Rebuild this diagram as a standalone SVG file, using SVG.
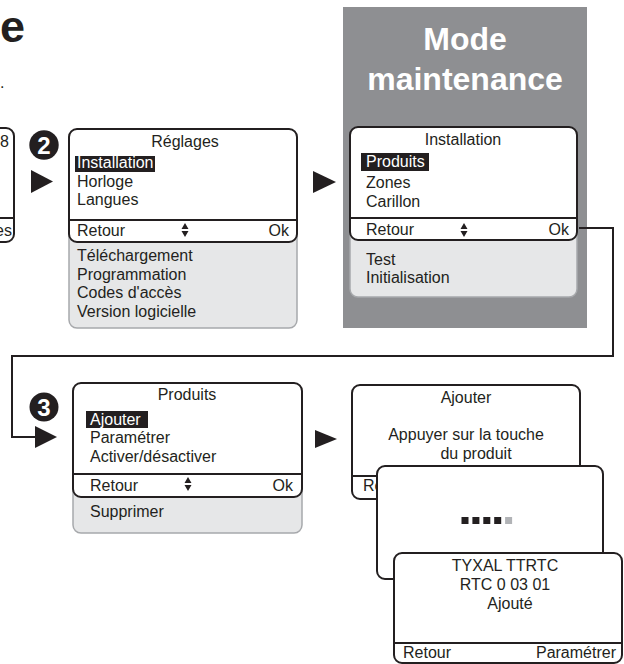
<svg xmlns="http://www.w3.org/2000/svg" width="624" height="664" viewBox="0 0 624 664">
<defs>
<style>
text{font-family:"Liberation Sans",Arial,sans-serif;font-size:16px;fill:#231f20}
.c{text-anchor:middle}
.e{text-anchor:end}
.w{fill:#ffffff}
.scr{fill:#ffffff;stroke:#231f20;stroke-width:2}
.ext{fill:#e6e7e8;stroke:#a7a9ac;stroke-width:1.5}
.sep{stroke:#231f20;stroke-width:2}
.hl{fill:#231f20}
.tri{fill:#231f20}
.num{font-size:24px;font-weight:bold;fill:#ffffff;text-anchor:middle}
.conn{fill:none;stroke:#231f20;stroke-width:2}
</style>
</defs>

<g id="page-title">
<text x="0" y="42" style="font-size:45px;font-weight:bold">e</text>
<text x="0" y="88">.</text>
</g>

<g id="screen-previous">
<rect class="scr" x="-20" y="128" width="34" height="114" rx="8"/>
<line class="sep" x1="-20" y1="218" x2="14" y2="218"/>
<text class="e" x="9" y="147">8</text>
<text class="e" x="12" y="236">es</text>
</g>

<g id="step2">
<circle cx="44" cy="145" r="14.7" fill="#231f20"/>
<text class="num" x="44" y="153.5">2</text>
<polygon class="tri" points="31,170 53,181.5 31,193"/>
</g>

<g id="screen-reglages">
<rect class="ext" x="69" y="200" width="228" height="128" rx="8"/>
<rect class="scr" x="69" y="129" width="228" height="113" rx="8"/>
<line class="sep" x1="69" y1="220" x2="297" y2="220"/>
<text class="c" x="185" y="147">Réglages</text>
<rect class="hl" x="75" y="156" width="80" height="16"/>
<text class="w" x="77" y="168">Installation</text>
<text x="77" y="187">Horloge</text>
<text x="77" y="205">Langues</text>
<text x="77" y="236">Retour</text>
<path class="tri" d="M181.5,229 L185,223 L188.5,229 Z M181.5,231 L185,237 L188.5,231 Z"/>
<text class="e" x="289" y="236">Ok</text>
<text x="77" y="261">Téléchargement</text>
<text x="77" y="280">Programmation</text>
<text x="77" y="298">Codes d'accès</text>
<text x="77" y="317">Version logicielle</text>
</g>

<g id="arrow-to-installation">
<polygon class="tri" points="313,171 336,182 313,193"/>
</g>

<g id="maintenance-panel">
<rect x="343" y="7" width="244" height="321" fill="#8e8f92"/>
<text class="c w" x="465" y="50" style="font-size:32px;font-weight:bold">Mode</text>
<text class="c w" x="465" y="90" style="font-size:32px;font-weight:bold">maintenance</text>
</g>

<g id="screen-installation">
<rect class="ext" x="350" y="200" width="227" height="97" rx="8"/>
<rect class="scr" x="350" y="127" width="227" height="113" rx="8"/>
<line class="sep" x1="350" y1="218" x2="577" y2="218"/>
<text class="c" x="463" y="145">Installation</text>
<rect class="hl" x="361" y="153" width="68" height="18"/>
<text class="w" x="366" y="167">Produits</text>
<text x="366" y="188">Zones</text>
<text x="366" y="207">Carillon</text>
<text x="366" y="235">Retour</text>
<path class="tri" d="M460.5,229 L464,223 L467.5,229 Z M460.5,231 L464,237 L467.5,231 Z"/>
<text class="e" x="569" y="235">Ok</text>
<text x="366" y="265">Test</text>
<text x="366" y="283">Initialisation</text>
</g>

<g id="connectors">
<path class="conn" d="M579,228 H613 V356 H12 V437 H36"/>
<polygon class="tri" points="35,426 57,437 35,448"/>
</g>

<g id="step3">
<circle cx="44" cy="407" r="14.5" fill="#231f20"/>
<text class="num" x="44" y="415.5">3</text>
</g>

<g id="screen-produits">
<rect class="ext" x="73" y="460" width="229" height="73" rx="8"/>
<rect class="scr" x="73" y="383" width="229" height="114" rx="8"/>
<line class="sep" x1="73" y1="474" x2="302" y2="474"/>
<text class="c" x="187" y="400">Produits</text>
<rect class="hl" x="86" y="411" width="62" height="17"/>
<text class="w" x="90" y="425">Ajouter</text>
<text x="90" y="443">Paramétrer</text>
<text x="90" y="462">Activer/désactiver</text>
<text x="90" y="491">Retour</text>
<path class="tri" d="M184.5,483 L188,477 L191.5,483 Z M184.5,485 L188,491 L191.5,485 Z"/>
<text class="e" x="293" y="491">Ok</text>
<text x="90" y="517">Supprimer</text>
</g>

<g id="arrow-to-ajouter">
<polygon class="tri" points="315,430 337,439 315,448"/>
</g>

<g id="screen-ajouter">
<rect class="scr" x="352" y="385" width="228" height="114" rx="8"/>
<line class="sep" x1="352" y1="476" x2="580" y2="476"/>
<text class="c" x="466" y="403">Ajouter</text>
<text class="c" x="466" y="440">Appuyer sur la touche</text>
<text class="c" x="476" y="459">du produit</text>
<text x="363" y="491">Re</text>
</g>

<g id="screen-progress">
<rect class="scr" x="377" y="466" width="226" height="113" rx="8"/>
<rect x="461.5" y="517" width="7" height="7" fill="#231f20"/>
<rect x="472.4" y="517" width="7" height="7" fill="#231f20"/>
<rect x="483.3" y="517" width="7" height="7" fill="#231f20"/>
<rect x="494.2" y="517" width="7" height="7" fill="#231f20"/>
<rect x="505.1" y="517" width="7" height="7" fill="#b1b3b6"/>
</g>

<g id="screen-ajoute">
<rect class="scr" x="394" y="553" width="228" height="110" rx="8"/>
<line class="sep" x1="394" y1="643" x2="622" y2="643"/>
<text class="c" x="505" y="571">TYXAL TTRTC</text>
<text class="c" x="505" y="590">RTC 0 03 01</text>
<text class="c" x="510" y="609">Ajouté</text>
<text x="403" y="658">Retour</text>
<text class="e" x="616" y="658">Paramétrer</text>
</g>
</svg>
